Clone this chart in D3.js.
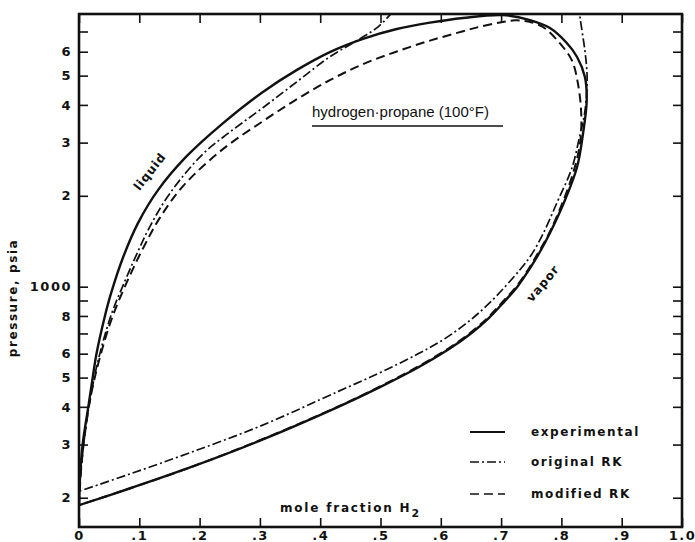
<!DOCTYPE html>
<html>
<head>
<meta charset="utf-8">
<script src="https://cdn.jsdelivr.net/npm/d3@7"></script>
<style>
body { margin: 0; background: #fff; }
svg { display: block; }
.lbl { font-family: "DejaVu Sans", sans-serif; font-weight: bold; fill: #111; }
</style>
</head>
<body>
<div id="chart"></div>
<script>
// values: [mole fraction H2, pressure psia]
var expLiquid = [[0,189],[0.002,240],[0.006,300],[0.0154,400],[0.0227,500],[0.029,600],[0.043,800],[0.052,934],
	[0.073,1249],[0.0978,1624],[0.131,2089],[0.179,2710],[0.239,3483],[0.305,4416],[0.3615,5224],[0.416,5985],
	[0.471,6622],[0.527,7137],[0.582,7489],[0.637,7760],[0.703,7930]];
var expVapor = [[0.748,7640],[0.781,7190],[0.809,6410],[0.826,5763],[0.839,4948],[0.842,4153],[0.836,3228],
	[0.826,2491],[0.806,1937],[0.781,1506],[0.764,1300],[0.747,1143],[0.727,1000],[0.705,891],[0.68,789],
	[0.65,700],[0.615,624],[0.56,537],[0.5,466],[0.43,400],[0.3,309],[0.182,251],[0.085,215],[0,189]];

var origLiquid = [[0,210],[0.0083,308],[0.018,418],[0.0315,567],[0.054,813],[0.0763,1045],[0.096,1285],
	[0.1178,1585],[0.151,2042],[0.2056,2754],[0.25,3250],[0.305,3915],[0.3615,4774],[0.416,5772],
	[0.466,6622],[0.496,7254],[0.519,8072],[0.532,8580]];
var origVapor = [[0.829,8600],[0.831,7780],[0.839,6048],[0.8425,5075],[0.842,4400],[0.838,3700],[0.831,3200],
	[0.8176,2478],[0.794,1925],[0.7695,1496],[0.75,1274],[0.73,1130],[0.68,880],[0.64,750],[0.6,660],
	[0.56,596],[0.5,520],[0.43,450],[0.3,345],[0.184,282],[0.085,240],[0,210]];

var modLiquid = [[0,189],[0.0033,245],[0.0083,308],[0.018,418],[0.033,567],[0.0564,804],[0.0874,1122],
	[0.1095,1380],[0.134,1690],[0.1725,2153],[0.237,2838],[0.305,3532],[0.3615,4178],[0.416,4831],
	[0.471,5458],[0.527,6012],[0.582,6531],[0.637,7015],[0.665,7261],[0.698,7499],[0.723,7621]];
var modVapor = [[0.745,7550],[0.7695,7244],[0.798,6380],[0.8176,5604],[0.8275,4701],[0.833,3700],[0.831,3000],
	[0.82,2400],[0.802,1900],[0.778,1480],[0.761,1290],[0.745,1140],[0.725,1000],[0.703,893],[0.678,790],
	[0.648,701],[0.613,625],[0.558,538],[0.5,468],[0.43,401],[0.3,310],[0.182,251],[0.085,215],[0,189]];

var xTicks = [0,0.1,0.2,0.3,0.4,0.5,0.6,0.7,0.8,0.9,1.0];
var yTicks = [200,300,400,500,600,700,800,900,1000,2000,3000,4000,5000,6000,7000];
var yTickLabels = ["2","3","4","5","6","","8","","1000","2","3","4","5","6",""];

var legendNames = ["experimental","original RK","modified RK"];

var width = 695, height = 542;
var plotLeft = 79, plotRight = 682, plotTop = 14, plotBottom = 527;

var svg = d3.select("#chart").append("svg")
	.attr("width", width)
	.attr("height", height);

var x = d3.scaleLinear().domain([0,1]).range([plotLeft,plotRight]);
var y = d3.scaleLog().domain([160,8000]).range([plotBottom,plotTop]);

svg.append("clipPath").attr("id","plotclip")
	.append("rect")
	.attr("x", plotLeft).attr("y", plotTop)
	.attr("width", plotRight-plotLeft).attr("height", plotBottom-plotTop);

var line = d3.line()
	.x(function(d){ return x(d[0]); })
	.y(function(d){ return y(d[1]); })
	.curve(d3.curveCatmullRom.alpha(0.5));

var styles = [
	{w: 2.4, dash: null},
	{w: 1.7, dash: "9,3,2,3"},
	{w: 2, dash: "9,5"}
];

var curves = svg.append("g").attr("clip-path","url(#plotclip)");

function drawCurve(pts, st){
	curves.append("path")
		.attr("d", line(pts))
		.attr("fill","none")
		.attr("stroke","#111")
		.attr("stroke-width", st.w)
		.attr("stroke-dasharray", st.dash)
		.attr("stroke-linejoin","round");
}

drawCurve(expLiquid.concat(expVapor), styles[0]);
drawCurve(origLiquid, styles[1]);
drawCurve(origVapor, styles[1]);
drawCurve(modLiquid.concat(modVapor), styles[2]);

// axes, ticks pointing inward on all four sides
var xFmt = function(d){
	if(d == 0) return "0";
	if(d == 1) return "1.0";
	return "." + Math.round(d*10);
};

var gBottom = svg.append("g")
	.attr("transform","translate(0,"+plotBottom+")")
	.call(d3.axisBottom(x).tickValues(xTicks).tickSizeInner(-9).tickSizeOuter(0).tickPadding(4).tickFormat(xFmt));
var gTop = svg.append("g")
	.attr("transform","translate(0,"+plotTop+")")
	.call(d3.axisTop(x).tickValues(xTicks).tickSizeInner(-9).tickSizeOuter(0).tickFormat(""));
var gLeft = svg.append("g")
	.attr("transform","translate("+plotLeft+",0)")
	.call(d3.axisLeft(y).tickValues(yTicks).tickSizeInner(-9).tickSizeOuter(0).tickPadding(7)
		.tickFormat(function(d, i){ return yTickLabels[i]; }));
var gRight = svg.append("g")
	.attr("transform","translate("+plotRight+",0)")
	.call(d3.axisRight(y).tickValues(yTicks).tickSizeInner(-9).tickSizeOuter(0).tickFormat(""));

[gBottom, gTop, gLeft, gRight].forEach(function(g){
	g.select(".domain").remove();
	g.selectAll(".tick line").attr("stroke","#111").attr("stroke-width",1.6);
	g.selectAll(".tick text")
		.attr("class","lbl")
		.attr("font-size","13px")
		.style("letter-spacing","1.5px");
});

svg.append("rect")
	.attr("x", plotLeft).attr("y", plotTop)
	.attr("width", plotRight-plotLeft).attr("height", plotBottom-plotTop)
	.attr("fill","none")
	.attr("stroke","#111")
	.attr("stroke-width",2.6);

// axis titles
svg.append("text")
	.attr("class","lbl")
	.attr("font-size","12px")
	.style("letter-spacing","1.6px")
	.attr("text-anchor","middle")
	.attr("transform","translate(17,298) rotate(-90)")
	.text("pressure, psia");

var xt = svg.append("text")
	.attr("class","lbl")
	.attr("font-size","12px")
	.style("letter-spacing","1.8px")
	.attr("x", 280)
	.attr("y", 512)
	.text("mole  fraction H");
xt.append("tspan")
	.attr("font-size","11px")
	.attr("dy", 5)
	.text("2");

// title
svg.append("text")
	.attr("x", 312)
	.attr("y", 117)
	.attr("font-family","'Liberation Sans', Arial, sans-serif")
	.attr("font-size","15px")
	.attr("fill","#111")
	.text("hydrogen\u00b7propane (100\u00b0F)");
svg.append("line")
	.attr("x1", 312).attr("x2", 503)
	.attr("y1", 126).attr("y2", 126)
	.attr("stroke","#111")
	.attr("stroke-width",1.5);

// curve labels
svg.append("text")
	.attr("class","lbl")
	.attr("font-size","12px")
	.style("letter-spacing","1px")
	.attr("text-anchor","middle")
	.attr("transform","translate(153,174) rotate(-52)")
	.text("liquid");
svg.append("text")
	.attr("class","lbl")
	.attr("font-size","12px")
	.style("letter-spacing","1px")
	.attr("text-anchor","middle")
	.attr("transform","translate(546,286) rotate(-50)")
	.text("vapor");

// legend
var legendY = [432, 462, 494];
var legend = svg.selectAll(".legend").data(legendNames).enter()
	.append("g")
	.attr("class","legend")
	.attr("transform", function(d, i){ return "translate(0,"+legendY[i]+")"; });

legend.append("line")
	.attr("x1", 470).attr("x2", 505)
	.attr("y1", 0).attr("y2", 0)
	.attr("stroke","#111")
	.attr("stroke-width", function(d, i){ return styles[i].w - 0.4; })
	.attr("stroke-dasharray", function(d, i){ return styles[i].dash; });

legend.append("text")
	.attr("class","lbl")
	.attr("font-size","12px")
	.style("letter-spacing","1.6px")
	.attr("x", 531)
	.attr("dy","0.35em")
	.text(function(d){ return d; });
</script>
</body>
</html>
